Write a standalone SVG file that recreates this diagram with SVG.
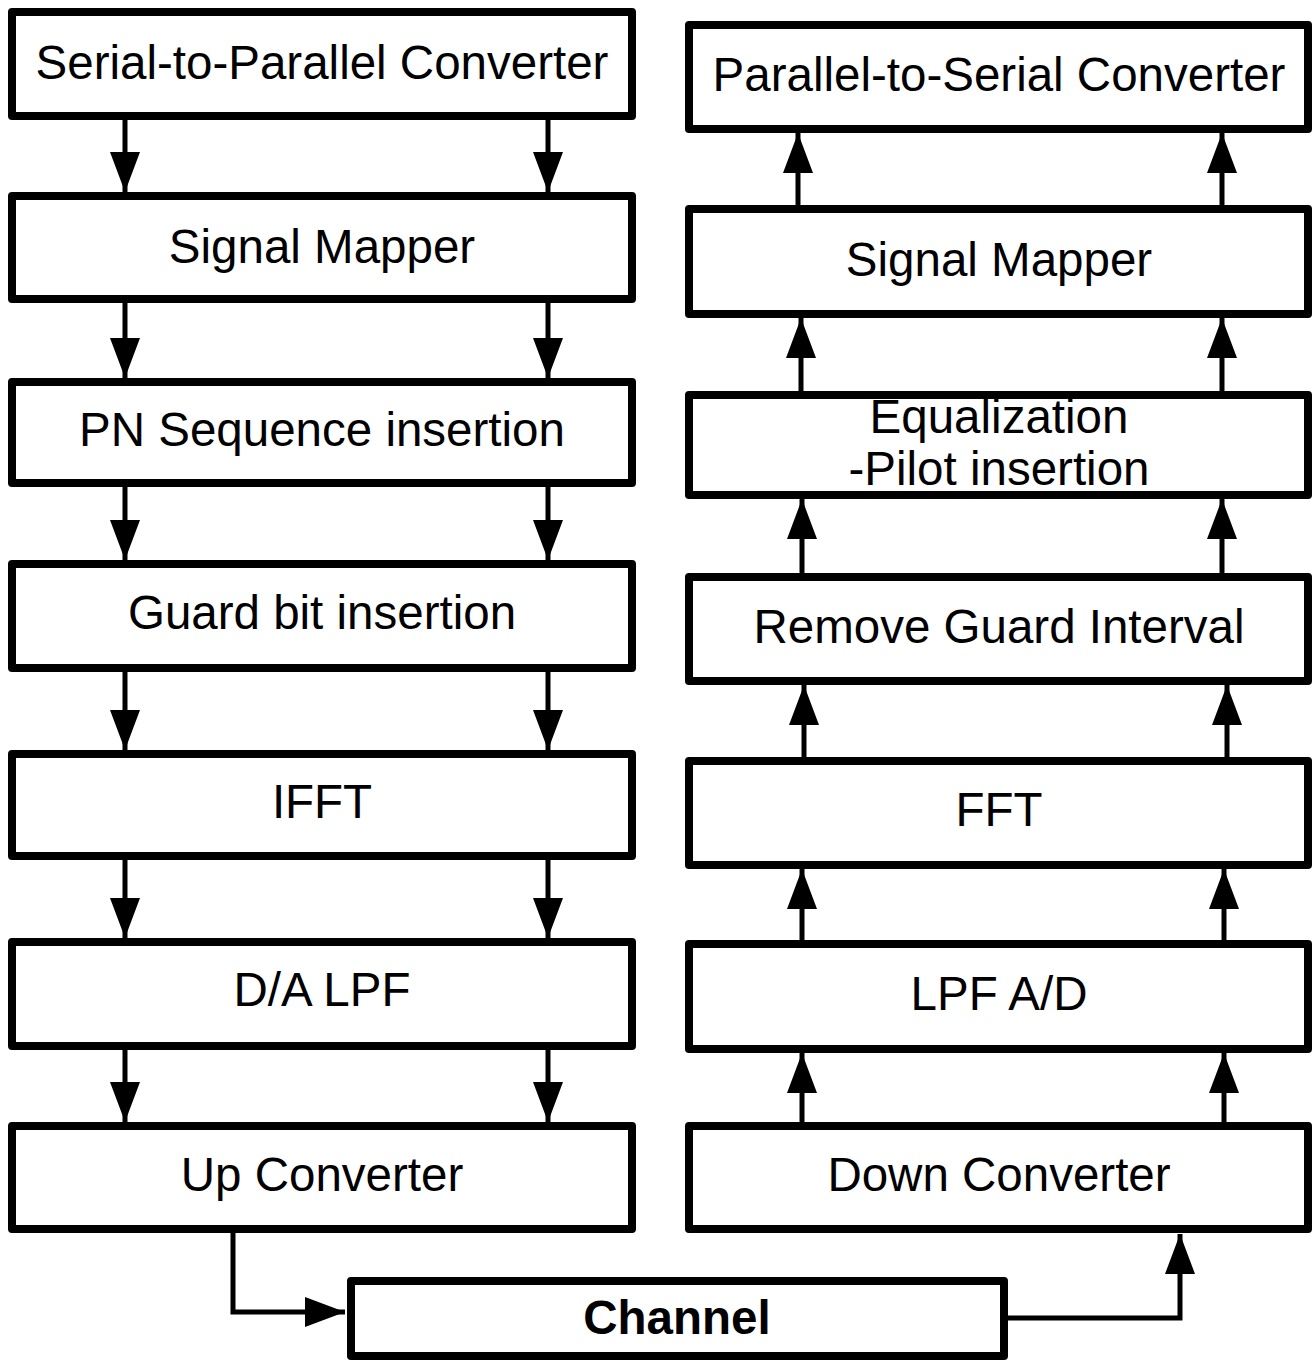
<svg xmlns="http://www.w3.org/2000/svg" width="1312" height="1360" viewBox="0 0 1312 1360">
  <defs>
    <marker id="arrow" markerUnits="userSpaceOnUse" markerWidth="40" markerHeight="30" refX="40" refY="15" orient="auto">
      <path d="M0,0 L40,15 L0,30 z" fill="#000"/>
    </marker>
    <style>
      .box { fill: #fff; stroke: #000; stroke-width: 8; stroke-linejoin: round; }
      .lbl { font-family: "Liberation Sans", Arial, sans-serif; font-size: 47.5px; fill: #000; text-anchor: middle; }
      .bold { font-weight: bold; }
      .conn { fill: none; stroke: #000; stroke-width: 5; marker-end: url(#arrow); }
    </style>
  </defs>
  <rect width="1312" height="1360" fill="#fff"/>

  <g id="connectors">
    <!-- transmitter (down) -->
    <line class="conn" x1="125" y1="120" x2="125" y2="192"/>
    <line class="conn" x1="548" y1="120" x2="548" y2="192"/>
    <line class="conn" x1="125" y1="303" x2="125" y2="378"/>
    <line class="conn" x1="548" y1="303" x2="548" y2="378"/>
    <line class="conn" x1="125" y1="487" x2="125" y2="560"/>
    <line class="conn" x1="548" y1="487" x2="548" y2="560"/>
    <line class="conn" x1="125" y1="672" x2="125" y2="750"/>
    <line class="conn" x1="548" y1="672" x2="548" y2="750"/>
    <line class="conn" x1="125" y1="860" x2="125" y2="938"/>
    <line class="conn" x1="548" y1="860" x2="548" y2="938"/>
    <line class="conn" x1="125" y1="1050" x2="125" y2="1122"/>
    <line class="conn" x1="548" y1="1050" x2="548" y2="1122"/>
    <!-- receiver (up) -->
    <line class="conn" x1="798" y1="205" x2="798" y2="133"/>
    <line class="conn" x1="1222" y1="205" x2="1222" y2="133"/>
    <line class="conn" x1="801" y1="391" x2="801" y2="318"/>
    <line class="conn" x1="1222" y1="391" x2="1222" y2="318"/>
    <line class="conn" x1="802" y1="573" x2="802" y2="499"/>
    <line class="conn" x1="1222" y1="573" x2="1222" y2="499"/>
    <line class="conn" x1="804" y1="757" x2="804" y2="685"/>
    <line class="conn" x1="1227" y1="757" x2="1227" y2="685"/>
    <line class="conn" x1="802" y1="940" x2="802" y2="869"/>
    <line class="conn" x1="1224" y1="940" x2="1224" y2="869"/>
    <line class="conn" x1="802" y1="1122" x2="802" y2="1053"/>
    <line class="conn" x1="1224" y1="1122" x2="1224" y2="1053"/>
    <!-- channel -->
    <path class="conn" d="M233,1233 V1312 H345"/>
    <path class="conn" d="M1008,1318 H1180 V1234"/>
  </g>

  <g id="tx-sp">
    <rect class="box" x="12" y="12" width="620" height="104"/>
    <text class="lbl" x="322" y="79">Serial-to-Parallel Converter</text>
  </g>
  <g id="tx-mapper">
    <rect class="box" x="12" y="196" width="620" height="103"/>
    <text class="lbl" x="322" y="263">Signal Mapper</text>
  </g>
  <g id="tx-pn">
    <rect class="box" x="12" y="382" width="620" height="101"/>
    <text class="lbl" x="322" y="446">PN Sequence insertion</text>
  </g>
  <g id="tx-guard">
    <rect class="box" x="12" y="564" width="620" height="104"/>
    <text class="lbl" x="322" y="629">Guard bit insertion</text>
  </g>
  <g id="tx-ifft">
    <rect class="box" x="12" y="754" width="620" height="102"/>
    <text class="lbl" x="322" y="818">IFFT</text>
  </g>
  <g id="tx-da">
    <rect class="box" x="12" y="942" width="620" height="104"/>
    <text class="lbl" x="322" y="1006">D/A LPF</text>
  </g>
  <g id="tx-up">
    <rect class="box" x="12" y="1126" width="620" height="103"/>
    <text class="lbl" x="322" y="1191">Up Converter</text>
  </g>

  <g id="rx-ps">
    <rect class="box" x="689" y="25" width="619" height="104"/>
    <text class="lbl" x="999" y="91">Parallel-to-Serial Converter</text>
  </g>
  <g id="rx-mapper">
    <rect class="box" x="689" y="209" width="619" height="105"/>
    <text class="lbl" x="999" y="276">Signal Mapper</text>
  </g>
  <g id="rx-eq">
    <rect class="box" x="689" y="395" width="619" height="100"/>
    <text class="lbl" x="999" y="433">Equalization</text>
    <text class="lbl" x="999" y="485">-Pilot insertion</text>
  </g>
  <g id="rx-guard">
    <rect class="box" x="689" y="577" width="619" height="104"/>
    <text class="lbl" x="999" y="643">Remove Guard Interval</text>
  </g>
  <g id="rx-fft">
    <rect class="box" x="689" y="761" width="619" height="104"/>
    <text class="lbl" x="999" y="826">FFT</text>
  </g>
  <g id="rx-ad">
    <rect class="box" x="689" y="944" width="619" height="105"/>
    <text class="lbl" x="999" y="1010">LPF A/D</text>
  </g>
  <g id="rx-down">
    <rect class="box" x="689" y="1126" width="619" height="103"/>
    <text class="lbl" x="999" y="1191">Down Converter</text>
  </g>

  <g id="channel">
    <rect class="box" x="351" y="1281" width="653" height="75"/>
    <text class="lbl bold" x="677" y="1334">Channel</text>
  </g>
</svg>
